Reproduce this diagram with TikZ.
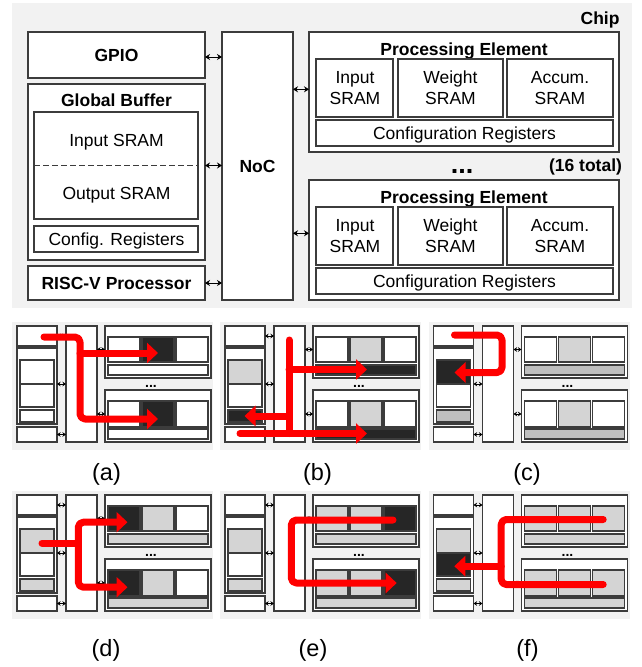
\documentclass[tikz,border=0pt]{standalone}
\usepackage{fontspec}
\setmainfont{Liberation Sans}
\usetikzlibrary{arrows.meta}

\definecolor{chipbg}{HTML}{F2F2F2}
\definecolor{edgegray}{HTML}{3C3C3C}
\definecolor{lite}{HTML}{D4D4D4}
\definecolor{midg}{HTML}{BFBFBF}
\definecolor{darkfill}{HTML}{262626}
\definecolor{flowred}{HTML}{FF0000}

\newcommand\dgmfont{\fontsize{17.5}{21}\selectfont}
\newcommand\dgmcapfont{\fontsize{23.5}{28}\selectfont}

% block given by its top-left and bottom-right corners
\newcommand\blockat[7][]{%
  \node[blk,#1,minimum width={(#5)-(#3)},minimum height={(#6)-(#4)}] (#2) at (#3,#4) {#7};}

% one processing element of the full chip, shifted down by #2
\newcommand\procelem[2]{%
  \blockat{#1}{309}{32+#2}{619}{152+#2}{}
  \node[ttl] (#1-title) at (464,55+#2) {Processing Element};
  \blockat{#1in}{316}{59+#2}{393}{117+#2}{}
  \blockat{#1wt}{398}{59+#2}{503}{117+#2}{}
  \blockat{#1acc}{507}{59+#2}{613}{117+#2}{}
  \blockat{#1cfg}{316}{120+#2}{613}{146+#2}{}
  \node[txt] (#1in-a) at (355,83.3+#2) {Input};
  \node[txt] (#1in-b) at (355,104+#2) {SRAM};
  \node[txt] (#1wt-a) at (450.5,83.3+#2) {Weight};
  \node[txt] (#1wt-b) at (450.5,104+#2) {SRAM};
  \node[txt] (#1acc-a) at (560,83.3+#2) {Accum.};
  \node[txt] (#1acc-b) at (560,104+#2) {SRAM};
  \node[txt] (#1cfg-t) at (464.5,139.3+#2) {Configuration Registers};
}

% reduced chip outline; #2..#8 fill the buffer and PE memories
\newcommand\minichip[8]{%
  \blockat[bg]{#1-bg}{0}{0}{201}{128}{}
  \blockat[mini]{#1-gpio}{5}{4}{45}{24}{}
  \blockat[mini]{#1-gb}{5}{26}{45}{102}{}
  \blockat[mini,fill=#2]{#1-gbin}{8}{38}{42}{62}{}
  \blockat[mini,fill=#3]{#1-gbout}{8}{62}{42}{85}{}
  \blockat[mini,fill=#4]{#1-gbcfg}{8}{88}{42}{100}{}
  \blockat[mini]{#1-risc}{5}{105}{45}{120}{}
  \blockat[mini]{#1-noc}{54}{4}{85}{120}{}
  \blockat[mini]{#1-pea}{93}{4}{199}{56}{}
  \blockat[mini,fill=#5]{#1-peain}{96}{15}{128}{40}{}
  \blockat[mini,fill=#6]{#1-peawt}{130}{15}{162}{40}{}
  \blockat[mini,fill=#7]{#1-peaacc}{164}{15}{196}{40}{}
  \blockat[mini,fill=#8]{#1-peacfg}{96}{43}{196}{53}{}
  \node[minidots] (#1-dots) at (139,65.3) {...};
  \blockat[mini]{#1-peb}{93}{68}{199}{120}{}
  \blockat[mini,fill=#5]{#1-pebin}{96}{79}{128}{105}{}
  \blockat[mini,fill=#6]{#1-pebwt}{130}{79}{162}{105}{}
  \blockat[mini,fill=#7]{#1-pebacc}{164}{79}{196}{105}{}
  \blockat[mini,fill=#8]{#1-pebcfg}{96}{107}{196}{117}{}
  \draw[minilink] (#1-gpio.east) -- (#1-gpio.east -| #1-noc.west);
  \draw[minilink] (#1-gb.east |- #1-gbout.north) -- (#1-noc.west |- #1-gbout.north);
  \draw[minilink] (#1-risc.east) -- (#1-risc.east -| #1-noc.west);
  \draw[minilink] (#1-noc.east |- #1-peain.west) -- (#1-pea.west |- #1-peain.west);
  \draw[minilink] (#1-noc.east |- #1-pebin.west) -- (#1-peb.west |- #1-pebin.west);
}

\begin{document}
\begin{tikzpicture}[x=1pt,y=-1pt,
  blk/.style={draw=edgegray,line width=1.1pt,fill=white,inner sep=0pt,outer sep=0pt,anchor=north west},
  bg/.style={fill=chipbg,draw=none},
  mini/.style={line width=1.3pt},
  txt/.style={inner sep=0pt,outer sep=0pt,anchor=base,font=\dgmfont},
  ttl/.style={txt,font=\dgmfont\bfseries},
  minidots/.style={inner sep=0pt,anchor=base,font=\fontsize{14}{14}\selectfont\bfseries},
  subcap/.style={inner sep=0pt,anchor=base,font=\dgmcapfont},
  link/.style={<->,>={Stealth[length=5pt,width=6pt]},line width=1pt},
  minilink/.style={<->,>={Stealth[length=3.5pt,width=4.5pt]},line width=1pt},
  route/.style={draw=flowred,line width=7pt,line cap=round,line join=round,rounded corners=5pt},
  flow/.style={route,->,>={Triangle[length=11pt,width=20pt]}},
]
\useasboundingbox (0,0) rectangle (641,667);

% ---------------- full chip ----------------
\blockat[bg]{chip}{12}{3}{632}{308}{}
\node[ttl,anchor=base east] (chip-title) at (619.5,24) {Chip};

\blockat{gpio}{28}{32}{205}{78}{}
\node[ttl] (gpio-t) at (116.5,61.7) {GPIO};

\blockat{gb}{28}{84}{205}{260}{}
\node[ttl] (gb-t) at (116.5,106) {Global Buffer};
\blockat{gbsram}{34}{112}{198}{219}{}
\draw[edgegray,line width=1pt,dash pattern=on 6pt off 3pt] (gbsram.west) -- (gbsram.east);
\node[txt] (gbin-t) at (116.5,146) {Input SRAM};
\node[txt] (gbout-t) at (116.5,199) {Output SRAM};
\blockat{gbcfg}{34}{226}{198}{252}{}
\node[txt] (gbcfg-t) at (116.5,245) {Config. Registers};

\blockat{risc}{28}{266}{205}{300}{}
\node[ttl] (risc-t) at (116.5,289) {RISC-V Processor};

\blockat{noc}{222}{32}{293}{300}{}
\node[ttl] (noc-t) at (257.5,172.7) {NoC};

\procelem{pe1}{0}
\procelem{pe2}{148}

\node[ttl,font=\fontsize{27}{27}\selectfont\bfseries] (pe-dots) at (462,173.3) {...};
\node[ttl,anchor=base east] (pe-count) at (622,171.3) {(16 total)};

% links to the NoC
\path ([yshift=-2pt]gpio.east) coordinate (gpio-port);
\path ([yshift=-1.3pt]pe1in.west) coordinate (pe1-port);
\path ([yshift=2.7pt]pe2in.west) coordinate (pe2-port);
\draw[link] (gpio-port) -- (gpio-port -| noc.west);
\draw[link] (gb.east |- gbsram.center) -- (noc.west |- gbsram.center);
\draw[link] (risc.east) -- (risc.east -| noc.west);
\draw[link] (noc.east |- pe1-port) -- (pe1.west |- pe1-port);
\draw[link] (noc.east |- pe2-port) -- (pe2.west |- pe2-port);

% ---------------- (a) ----------------
\begin{scope}[shift={(12,322)}]
  \minichip{pa}{white}{white}{white}{white}{darkfill}{white}{white}
  \coordinate (pa-src) at (32,15);
  \coordinate (pa-bus) at (68,15);
  \coordinate (pa-tipA) at (146,31);
  \coordinate (pa-tipB) at (146,97);
  \draw[flow] (pa-src) -- (pa-bus) -- (pa-bus |- pa-tipB) -- (pa-tipB);
  \draw[flow] (pa-bus |- pa-tipA) -- (pa-tipA);
\end{scope}

% ---------------- (b) ----------------
\begin{scope}[shift={(220,322)}]
  \minichip{pb}{lite}{white}{darkfill}{white}{lite}{white}{darkfill}
  \coordinate (pb-top) at (69,18);
  \coordinate (pb-src) at (20,111.5);
  \coordinate (pb-tipA) at (147,47.5);
  \coordinate (pb-tipB) at (147,111.5);
  \coordinate (pb-tipC) at (24.5,94);
  \draw[route] (pb-top) -- (pb-top |- pb-src);
  \draw[flow] (pb-src) -- (pb-tipB);
  \draw[flow] (pb-top |- pb-tipA) -- (pb-tipA);
  \draw[flow] (pb-top |- pb-tipC) -- (pb-tipC);
\end{scope}

% ---------------- (c) ----------------
\begin{scope}[shift={(428.5,322)}]
  \minichip{pc}{darkfill}{white}{midg}{white}{lite}{white}{midg}
  \coordinate (pc-src) at (26,13);
  \coordinate (pc-bus) at (73.5,13);
  \coordinate (pc-tip) at (26,50.5);
  \draw[flow] (pc-src) -- (pc-bus) -- (pc-bus |- pc-tip) -- (pc-tip);
\end{scope}

% ---------------- (d) ----------------
\begin{scope}[shift={(12,491)}]
  \minichip{pd}{lite}{white}{lite}{darkfill}{lite}{white}{lite}
  \coordinate (pd-src) at (30,52);
  \coordinate (pd-bus) at (66.3,52);
  \coordinate (pd-tipA) at (115.5,31.2);
  \coordinate (pd-tipB) at (115.5,96.2);
  \draw[route] (pd-src) -- (pd-bus);
  \draw[flow] (pd-bus) -- (pd-bus |- pd-tipA) -- (pd-tipA);
  \draw[flow] (pd-bus) -- (pd-bus |- pd-tipB) -- (pd-tipB);
\end{scope}

% ---------------- (e) ----------------
\begin{scope}[shift={(220,491)}]
  \minichip{pe}{lite}{white}{lite}{lite}{lite}{darkfill}{lite}
  \coordinate (pe-src) at (173,29);
  \coordinate (pe-bus) at (71.3,29);
  \coordinate (pe-tip) at (176.7,92);
  \draw[flow] (pe-src) -- (pe-bus) -- (pe-bus |- pe-tip) -- (pe-tip);
\end{scope}

% ---------------- (f) ----------------
\begin{scope}[shift={(428.5,491)}]
  \minichip{pf}{lite}{darkfill}{lite}{lite}{lite}{lite}{lite}
  \coordinate (pf-srcA) at (174.7,28.5);
  \coordinate (pf-srcB) at (174.7,93.5);
  \coordinate (pf-bus) at (72.7,28.5);
  \coordinate (pf-tip) at (25.8,75.2);
  \draw[route] (pf-srcA) -- (pf-bus) -- (pf-bus |- pf-srcB) -- (pf-srcB);
  \draw[flow] (pf-bus |- pf-tip) -- (pf-tip);
\end{scope}

% sub-figure captions
\node[subcap] (cap-a) at (106.5,480) {(a)};
\node[subcap] (cap-b) at (317.5,480) {(b)};
\node[subcap] (cap-c) at (527,480) {(c)};
\node[subcap] (cap-d) at (106,656) {(d)};
\node[subcap] (cap-e) at (313,656) {(e)};
\node[subcap] (cap-f) at (527.5,656) {(f)};
\end{tikzpicture}
\end{document}
